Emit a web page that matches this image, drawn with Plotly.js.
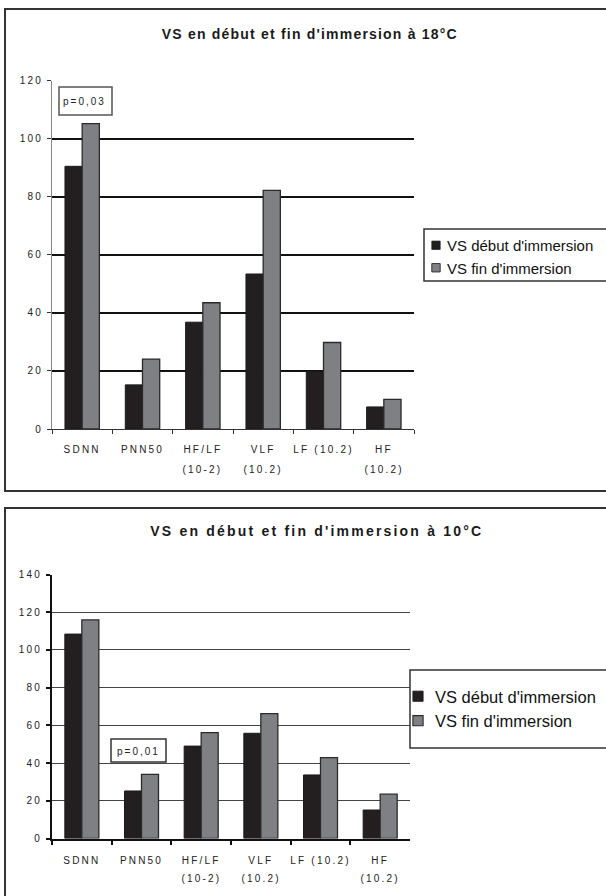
<!DOCTYPE html>
<html>
<head>
<meta charset="utf-8">
<script src="https://cdn.plot.ly/plotly-3.0.1.min.js"></script>
<style>
  html, body { margin: 0; padding: 0; background: #fff; }
  #chart { width: 606px; height: 896px; }
  .xaxislayer-above text, .yaxislayer-above text { letter-spacing: 2.2px; }
  .annotation text { letter-spacing: 2.2px; }
  .annotation[data-index="0"] text { letter-spacing: 1.2px; }
  .annotation[data-index="1"] text { letter-spacing: 2.2px; }
  .annotation[data-index="2"] text, .annotation[data-index="3"] text { letter-spacing: 2px; }
  .legend .legendpoints path { transform: translate(29px, 0px) scale(0.7); }
  .legend2 .legendpoints path { transform: translate(23px, 0px) scale(0.85); }
</style>
</head>
<body>
<div id="chart"></div>
<script>
// Categories and tick labels
var categories = ['SDNN', 'PNN50', 'HF/LF (10-2)', 'VLF (10.2)', 'LF (10.2)', 'HF (10.2)'];
var tickLine1 = ['SDNN', 'PNN50', 'HF/LF', 'VLF', 'LF (10.2)', 'HF'];
var tickLine2 = ['', '', '(10-2)', '(10.2)', '', '(10.2)'];

// 18°C chart
var debut18 = [90.5, 15.2, 36.8, 53.4, 19.8, 7.6];
var fin18 = [105.2, 24.1, 43.5, 82.2, 29.8, 10.2];

// 10°C chart
var debut10 = [108.4, 25.2, 49.0, 55.8, 33.7, 15.1];
var fin10 = [115.9, 34.0, 56.1, 66.2, 42.9, 23.5];

var seriesNames = ["VS début d'immersion", "VS fin d'immersion"];
var titles = ["VS en début et fin d'immersion à 18°C", "VS en début et fin d'immersion à 10°C"];
var pValues = ['p=0,03', 'p=0,01'];

var W = 606, H = 896;
function px(x) { return x / W; }
function py(y) { return 1 - y / H; }

var BLACK = '#231f20', GRAY = '#7f8083', FONT = 'Liberation Sans, Arial, sans-serif';

var traces = [
  { type: 'bar', x: categories, y: debut18, name: seriesNames[0], xaxis: 'x', yaxis: 'y', legend: 'legend',
    marker: { color: BLACK, line: { color: '#1a1a1a', width: 1 } } },
  { type: 'bar', x: categories, y: fin18, name: seriesNames[1], xaxis: 'x', yaxis: 'y', legend: 'legend',
    marker: { color: GRAY, line: { color: '#2a2a2a', width: 1.3 } } },
  { type: 'bar', x: categories, y: debut10, name: seriesNames[0], xaxis: 'x2', yaxis: 'y2', legend: 'legend2',
    marker: { color: BLACK, line: { color: '#1a1a1a', width: 1 } } },
  { type: 'bar', x: categories, y: fin10, name: seriesNames[1], xaxis: 'x2', yaxis: 'y2', legend: 'legend2',
    marker: { color: GRAY, line: { color: '#2a2a2a', width: 1.3 } } }
];

var tickFont = { family: FONT, size: 10, color: '#222' };

var annotations = [
  { text: '<b>' + titles[0] + '</b>', xref: 'paper', yref: 'paper', x: px(310), y: py(34),
    xanchor: 'center', yanchor: 'middle', showarrow: false, font: { family: FONT, size: 14, color: '#1a1a1a' } },
  { text: '<b>' + titles[1] + '</b>', xref: 'paper', yref: 'paper', x: px(317), y: py(531),
    xanchor: 'center', yanchor: 'middle', showarrow: false, font: { family: FONT, size: 14, color: '#1a1a1a' } },
  { text: pValues[0], xref: 'paper', yref: 'paper', x: px(84), y: py(101),
    xanchor: 'center', yanchor: 'middle', showarrow: false, font: { family: FONT, size: 10, color: '#222' } },
  { text: pValues[1], xref: 'paper', yref: 'paper', x: px(138), y: py(751),
    xanchor: 'center', yanchor: 'middle', showarrow: false, font: { family: FONT, size: 10, color: '#222' } }
];
for (var i = 0; i < categories.length; i++) {
  if (!tickLine2[i]) continue;
  annotations.push({ text: tickLine2[i], xref: 'x', yref: 'paper', x: categories[i], y: py(469),
    xanchor: 'center', yanchor: 'middle', showarrow: false, font: tickFont });
  annotations.push({ text: tickLine2[i], xref: 'x2', yref: 'paper', x: categories[i], y: py(878),
    xanchor: 'center', yanchor: 'middle', showarrow: false, font: tickFont });
}

var shapes = [
  // outer frames
  { type: 'rect', xref: 'paper', yref: 'paper', x0: px(5), x1: px(640), y0: py(491), y1: py(9),
    line: { color: '#333', width: 2 } },
  { type: 'rect', xref: 'paper', yref: 'paper', x0: px(5), x1: px(640), y0: py(940), y1: py(508),
    line: { color: '#333', width: 2 } },
  // p-value boxes
  { type: 'rect', xref: 'paper', yref: 'paper', x0: px(59), x1: px(112), y0: py(115), y1: py(87),
    line: { color: '#555', width: 1.5 }, fillcolor: 'rgba(0,0,0,0)' },
  { type: 'rect', xref: 'paper', yref: 'paper', x0: px(111), x1: px(166), y0: py(762), y1: py(739),
    line: { color: '#333', width: 1.5 }, fillcolor: '#fff', layer: 'above' },
  // legend boxes
  { type: 'rect', xref: 'paper', yref: 'paper', x0: px(424), x1: px(640), y0: py(281), y1: py(229),
    line: { color: '#333', width: 1.5 }, fillcolor: '#fff', layer: 'below' },
  { type: 'rect', xref: 'paper', yref: 'paper', x0: px(410), x1: px(640), y0: py(748), y1: py(670),
    line: { color: '#333', width: 1.5 }, fillcolor: '#fff', layer: 'below' }
];

var layout = {
  width: W, height: H,
  margin: { l: 0, r: 0, t: 0, b: 0 },
  paper_bgcolor: '#fff', plot_bgcolor: 'rgba(0,0,0,0)',
  font: { family: FONT, color: '#222' },
  barmode: 'group', bargap: 0.43, bargroupgap: 0,
  showlegend: true,
  xaxis: { domain: [px(52), px(414)], anchor: 'y', type: 'category',
    tickvals: categories, ticktext: tickLine1, tickfont: tickFont,
    showline: true, linecolor: '#333', linewidth: 1,
    ticks: 'outside', tickson: 'boundaries', ticklen: 4, tickcolor: '#333', tickwidth: 1,
    ticklabelstandoff: 11, showgrid: false, zeroline: false, fixedrange: true },
  yaxis: { domain: [py(429), py(80.7)], anchor: 'x', range: [0, 120], dtick: 20,
    tickfont: tickFont, ticks: 'outside', ticklen: 4, tickcolor: '#333', ticklabelstandoff: 2,
    showline: true, linecolor: '#888', linewidth: 1,
    showgrid: true, gridcolor: '#111', gridwidth: 2, zeroline: false, fixedrange: true },
  xaxis2: { domain: [px(52), px(410)], anchor: 'y2', type: 'category',
    tickvals: categories, ticktext: tickLine1, tickfont: tickFont,
    showline: true, linecolor: '#111', linewidth: 2,
    ticks: 'outside', tickson: 'boundaries', ticklen: 4, tickcolor: '#111', tickwidth: 2,
    ticklabelstandoff: 11, showgrid: false, zeroline: false, fixedrange: true },
  yaxis2: { domain: [py(838.5), py(574.5)], anchor: 'x2', range: [0, 140], dtick: 20,
    tickfont: tickFont, ticks: 'outside', ticklen: 4, tickcolor: '#111', tickwidth: 2, ticklabelstandoff: 2,
    showline: true, linecolor: '#111', linewidth: 2,
    showgrid: true, gridcolor: '#444', gridwidth: 1, zeroline: false, fixedrange: true },
  legend: { x: px(407), y: py(229), xanchor: 'left', yanchor: 'top',
    bgcolor: 'rgba(0,0,0,0)', borderwidth: 0, font: { family: FONT, size: 15, color: '#111' } },
  legend2: { x: px(395), y: py(679), xanchor: 'left', yanchor: 'top',
    bgcolor: 'rgba(0,0,0,0)', borderwidth: 0, font: { family: FONT, size: 16.5, color: '#111' } },
  annotations: annotations,
  shapes: shapes
};

Plotly.newPlot('chart', traces, layout, { staticPlot: true, displayModeBar: false });
</script>
</body>
</html>
